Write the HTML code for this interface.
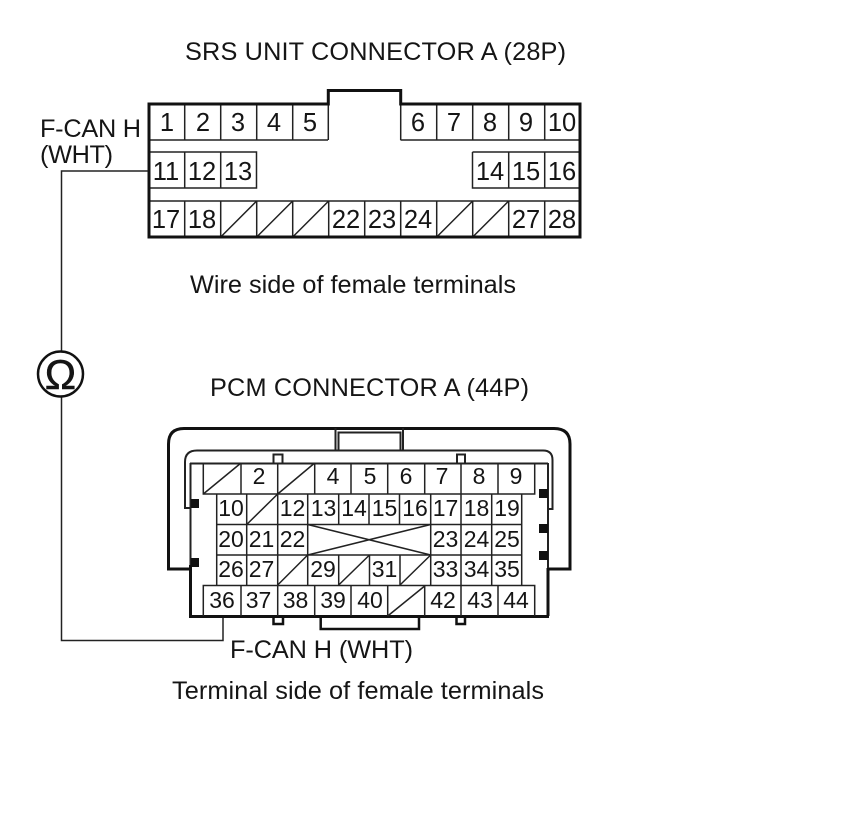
<!DOCTYPE html>
<html><head><meta charset="utf-8"><style>
html,body{margin:0;padding:0;background:#fff;width:860px;height:838px;overflow:hidden}
svg{display:block}
text{font-family:"Liberation Sans",sans-serif;fill:#151515}
.t{font-size:25.3px}
.a{font-size:25.5px;text-anchor:middle}
.b{font-size:23px;text-anchor:middle}
.c{stroke:#222;stroke-width:1.5;fill:none}
.o{stroke:#111;stroke-width:3;fill:none;stroke-linejoin:miter}
.m{stroke:#222;stroke-width:2;fill:none}
.k{fill:#111}
</style></head><body>
<svg width="860" height="838" viewBox="0 0 860 838" xmlns="http://www.w3.org/2000/svg">
<text class="t" x="185" y="60" textLength="381">SRS UNIT CONNECTOR A (28P)</text>
<text class="t" x="190" y="293" textLength="326">Wire side of female terminals</text>
<text class="t" x="210" y="396" textLength="319">PCM CONNECTOR A (44P)</text>
<text class="t" x="230" y="658" textLength="183">F-CAN H (WHT)</text>
<text class="t" x="172" y="699" textLength="372">Terminal side of female terminals</text>
<text class="t" x="40" y="137" textLength="101">F-CAN H</text>
<text class="t" x="40" y="163" textLength="73">(WHT)</text>

<!-- SRS cells -->
<path class="c" d="M149 140H328M400.5 140H580M149 152H256.5V188H149M472.5 152H580M472.5 152V188H580M149 201H580"/>
<path class="c" d="M184.7 104V140M220.7 104V140M256.7 104V140M292.7 104V140M436.7 104V140M472.7 104V140M508.7 104V140M544.7 104V140M328.3 104V140M400.7 104V140"/>
<path class="c" d="M184.7 152V188M220.7 152V188M508.7 152V188M544.7 152V188"/>
<path class="c" d="M184.7 201V237M220.7 201V237M256.7 201V237M292.7 201V237M328.7 201V237M364.7 201V237M400.7 201V237M436.7 201V237M472.7 201V237M508.7 201V237M544.7 201V237"/>
<path class="c" d="M220.7 237L256.7 201M256.7 237L292.7 201M292.7 237L328.7 201M436.7 237L472.7 201M472.7 237L508.7 201"/>
<path class="o" d="M149 104H328.3V90.5H400.7V104H580V237H149Z"/>
<text class="a" x="167" y="131">1</text><text class="a" x="203" y="131">2</text><text class="a" x="238" y="131">3</text><text class="a" x="274" y="131">4</text><text class="a" x="310" y="131">5</text><text class="a" x="418" y="131">6</text><text class="a" x="454" y="131">7</text><text class="a" x="490" y="131">8</text><text class="a" x="526" y="131">9</text><text class="a" x="562" y="131">10</text>
<text class="a" x="166" y="180">11</text><text class="a" x="202" y="180">12</text><text class="a" x="238" y="180">13</text><text class="a" x="490" y="180">14</text><text class="a" x="526" y="180">15</text><text class="a" x="562" y="180">16</text>
<text class="a" x="166" y="228">17</text><text class="a" x="202" y="228">18</text><text class="a" x="346" y="228">22</text><text class="a" x="382" y="228">23</text><text class="a" x="418" y="228">24</text><text class="a" x="526" y="228">27</text><text class="a" x="562" y="228">28</text>

<!-- wire -->
<path class="c" d="M148 171H61.5V352M61.5 396V640.5H223V617"/>
<circle cx="60.5" cy="374" r="22.5" fill="#fff" stroke="#111" stroke-width="2.5"/>
<text x="60.5" y="389" font-size="42" text-anchor="middle" stroke="#111" stroke-width=".5">Ω</text>

<!-- PCM housing -->
<path class="o" d="M190 569H168.5V444Q168.5 428.5 184 428.5H554Q570 428.5 570 444V569H548"/>
<path class="m" d="M335.5 428V450M403 428V450M338.5 450V432.5H400.5V450"/>
<path class="m" d="M191 508H185V462Q185 450.5 197 450.5H543Q552.5 450.5 552.5 460V509H548"/>
<path class="m" d="M190 463.5H548M190.5 463V566M548 463V569"/>
<path class="o" d="M190.5 565V616.5H549M548 568V616"/>
<path class="o" d="M320.7 617V629H419V617" style="stroke-width:2.5"/>
<path class="m" d="M273.5 463V454.5H282.5V463M457 463V454.5H465V463"/>
<path class="o" d="M273.5 617V624H283V617M456.5 617V624H465V617" style="stroke-width:2.5"/>
<rect class="k" x="191" y="499" width="8" height="9"/><rect class="k" x="191" y="558" width="8" height="9"/>
<rect class="k" x="539" y="489" width="9" height="9"/><rect class="k" x="539" y="524" width="9" height="9"/><rect class="k" x="539" y="551" width="9" height="9"/>

<!-- PCM cells -->
<path class="c" d="M203.3 463V494H534.7V463M241 463V494M277.7 463V494M314.7 463V494M351 463V494M387.7 463V494M424.7 463V494M461 463V494M498 463V494"/>
<path class="c" d="M203.3 494L241 463M277.7 494L314.7 463"/>
<path class="c" d="M216.7 494V585M246.7 494V585M277.7 494V585M307.7 494V585M338.7 494V525M369 494V525M399.5 494V525M430.7 494V585M461 494V585M491.7 494V585M521.7 494V585M338.7 555V585M369.5 555V585M400 555V585"/>
<path class="c" d="M216.7 524.5H521.7M216.7 555H521.7"/>
<path class="c" d="M246.7 524.5L277.7 494M277.7 585L307.7 555M338.7 585L369.5 555M400 585L430.7 555"/>
<path class="c" d="M307.7 524.5L430.7 555M307.7 555L430.7 524.5"/>
<path class="c" d="M203.3 616V585.5H534.7V616M241 585V616M277.7 585V616M314.7 585V616M351 585V616M387.7 585V616M424.7 585V616M461 585V616M498 585V616"/>
<path class="c" d="M387.7 616L424.7 586"/>

<text class="b" x="259" y="484">2</text><text class="b" x="333" y="484">4</text><text class="b" x="370" y="484">5</text><text class="b" x="406" y="484">6</text><text class="b" x="442" y="484">7</text><text class="b" x="479" y="484">8</text><text class="b" x="516" y="484">9</text>
<text class="b" x="231" y="516">10</text><text class="b" x="292.5" y="516">12</text><text class="b" x="323.5" y="516">13</text><text class="b" x="354" y="516">14</text><text class="b" x="384.5" y="516">15</text><text class="b" x="415" y="516">16</text><text class="b" x="445.5" y="516">17</text><text class="b" x="476.5" y="516">18</text><text class="b" x="507" y="516">19</text>
<text class="b" x="231" y="547">20</text><text class="b" x="261.5" y="547">21</text><text class="b" x="292.5" y="547">22</text><text class="b" x="445.5" y="547">23</text><text class="b" x="476.5" y="547">24</text><text class="b" x="507" y="547">25</text>
<text class="b" x="231" y="577">26</text><text class="b" x="261.5" y="577">27</text><text class="b" x="323" y="577">29</text><text class="b" x="384.5" y="577">31</text><text class="b" x="445.5" y="577">33</text><text class="b" x="476.5" y="577">34</text><text class="b" x="507" y="577">35</text>
<text class="b" x="222" y="608">36</text><text class="b" x="258.5" y="608">37</text><text class="b" x="295.5" y="608">38</text><text class="b" x="333" y="608">39</text><text class="b" x="370" y="608">40</text><text class="b" x="443" y="608">42</text><text class="b" x="480" y="608">43</text><text class="b" x="516" y="608">44</text>
</svg>
</body></html>
